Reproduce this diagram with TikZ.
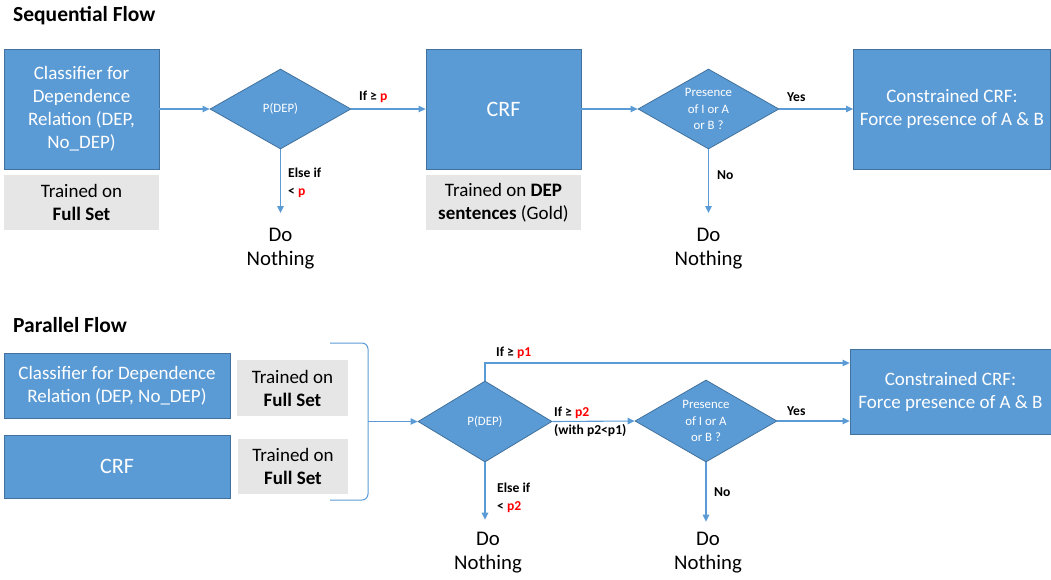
\documentclass[tikz,border=0pt]{standalone}
\usepackage{fontspec}
\setmainfont{Carlito}
\usetikzlibrary{shapes.geometric,arrows.meta}
\definecolor{boxblue}{HTML}{5B9BD5}
\definecolor{boxedge}{HTML}{41719C}
\definecolor{graybg}{HTML}{E7E6E6}
\definecolor{pred}{HTML}{FF0000}
\newcommand\myfs[2]{\fontsize{#1}{#2}\selectfont}
\tikzset{
  bluebox/.style={rectangle, draw=boxedge, fill=boxblue, line width=0.8pt, text=white, align=center, inner sep=0pt, font=\myfs{19}{23}},
  graybox/.style={rectangle, fill=graybg, align=center, inner sep=0pt, font=\myfs{19}{23}},
  bigtxt/.style={font=\myfs{22}{26}},
  decision/.style={diamond, aspect=1.76, draw=boxedge, fill=boxblue, line width=0.8pt, text=white, align=center, inner sep=0pt, font=\myfs{12.8}{16.5}},
  arr/.style={draw=boxblue, line width=1.1pt, -{Triangle[length=7pt,width=6.5pt]}},
  bracket/.style={draw=boxblue, line width=1pt, rounded corners=6pt},
  lbl/.style={font=\bfseries\myfs{13.6}{18}, align=left, inner sep=0pt, anchor=west},
  nothing/.style={font=\myfs{20.8}{24}, align=center, inner sep=0pt, anchor=north},
  ttl/.style={font=\bfseries\myfs{21.5}{25}, anchor=west, inner sep=0pt}
}
\begin{document}
\begin{tikzpicture}[x=1pt,y=-1pt]
\useasboundingbox (0,0) rectangle (1051,579);

% ---------- Sequential flow ----------
\node[ttl] (t1) at (13,16) {Sequential Flow};

\node[bluebox, minimum width=155pt, minimum height=120pt] (c1) at (81.5,109) {Classifier for\\Dependence\\Relation (DEP,\\No\_DEP)};
\node[graybox, minimum width=155pt, minimum height=55pt] (g1) at (81.5,202.5) {Trained on\\\textbf{Full Set}};
\node[decision, minimum width=141pt, minimum height=80pt] (d1) at (280.5,109) {P(DEP)};
\node[bluebox, bigtxt, minimum width=155pt, minimum height=120pt] (crf) at (503.5,109) {CRF};
\node[graybox, minimum width=155pt, minimum height=55pt] (g2) at (503.5,202.5) {Trained on \textbf{DEP}\\\textbf{sentences} (Gold)};
\node[decision, minimum width=141pt, minimum height=80pt] (d2) at (708.5,109) {Presence\\of I or A\\or B ?};
\node[bluebox, minimum width=197pt, minimum height=120pt] (cc1) at (952,109) {Constrained CRF:\\Force presence of A \& B};
\node[nothing] (dn1) at (280.5,227.5) {Do\\Nothing};
\node[nothing] (dn2) at (708.5,228) {Do\\Nothing};

\draw[arr] (c1.east) -- (d1.west);
\draw[arr] (d1.east) -- (crf.west);
\draw[arr] (crf.east) -- (d2.west);
\draw[arr] (d2.east) -- (cc1.west);
\draw[arr] (d1.south) -- ([yshift=14.5pt]dn1.north);
\draw[arr] (d2.south) -- ([yshift=15pt]dn2.north);

\node[lbl] (l1) at (359,97) {If ≥ \textcolor{pred}{p}};
\node[lbl] (l2) at (288,183) {Else if\\< \textcolor{pred}{p}};
\node[lbl] (l3) at (787,97) {Yes};
\node[lbl] (l4) at (717,175) {No};

% ---------- Parallel flow ----------
\node[ttl] (t2) at (13,325) {Parallel Flow};

\node[bluebox, minimum width=226pt, minimum height=65pt] (pc) at (117,386) {Classifier for Dependence\\Relation (DEP, No\_DEP)};
\node[graybox, minimum width=111pt, minimum height=56pt] (pg1) at (292.5,388) {Trained on\\\textbf{Full Set}};
\node[bluebox, bigtxt, minimum width=226pt, minimum height=63pt] (pcrf) at (117,466.5) {CRF};
\node[graybox, minimum width=110pt, minimum height=55pt] (pg2) at (293,466.5) {Trained on\\\textbf{Full Set}};

\coordinate (bt) at (330,343);
\coordinate (bb) at (330,500);
\coordinate (bm) at (368,421.5);
\draw[bracket] (bt) -- (368,343) -- (368,500) -- (bb);

\node[decision, minimum width=134pt, minimum height=81pt] (d3) at (485,421.5) {P(DEP)};
\node[decision, minimum width=142pt, minimum height=82pt] (d4) at (706,421) {Presence\\of I or A\\or B ?};
\node[bluebox, minimum width=201pt, minimum height=85pt] (cc2) at (950.5,391.5) {Constrained CRF:\\Force presence of A \& B};
\node[nothing] (dn3) at (488,531.7) {Do\\Nothing};
\node[nothing] (dn4) at (708,531.7) {Do\\Nothing};

\coordinate (up) at (485,363);
\draw[arr] (bm) -- (d3.west);
\draw[arr] (d3.north) -- (up) -- (up -| cc2.west);
\draw[arr] (d3.east) -- (d4.west);
\draw[arr] (d4.east) -- (d4.east -| cc2.west);
\draw[arr] (d3.south) -- ([yshift=12pt]dn3.north -| d3.south);
\draw[arr] (d4.south) -- ([yshift=10pt]dn4.north -| d4.south);

\node[lbl] (l5) at (496,353) {If ≥ \textcolor{pred}{p1}};
\node[lbl] (l6) at (554,422) {If ≥ \textcolor{pred}{p2}\\(with p2<p1)};
\node[lbl] (l7) at (787,411) {Yes};
\node[lbl] (l8) at (714,492) {No};
\node[lbl] (l9) at (497,498) {Else if\\< \textcolor{pred}{p2}};
\end{tikzpicture}
\end{document}
